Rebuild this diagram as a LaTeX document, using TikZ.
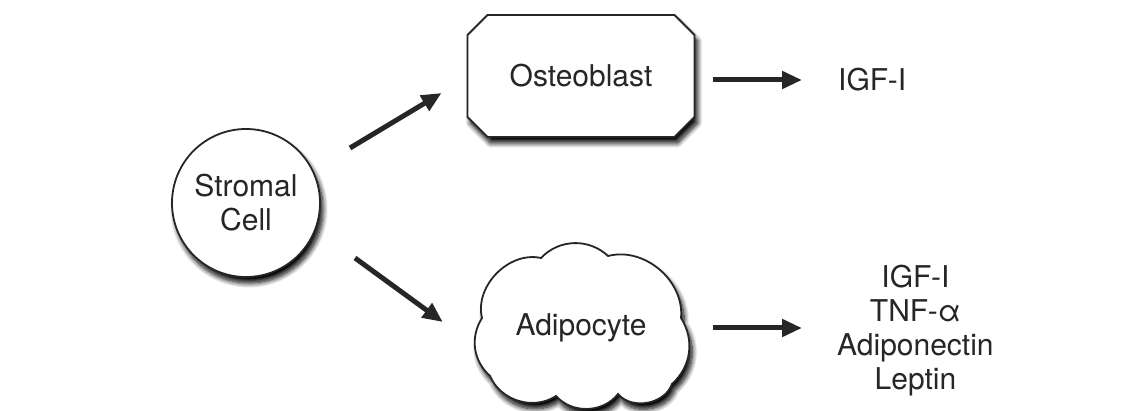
\documentclass[tikz,border=0pt]{standalone}
\usepackage{fontspec}
\setmainfont{TeX Gyre Heros}
\usetikzlibrary{shapes.geometric,shapes.misc,arrows.meta,calc,shadows.blur}
\definecolor{ink}{HTML}{262626}
\begin{document}
\begin{tikzpicture}[x=1pt,y=-1pt,
  txt/.style={font=\fontsize{30}{34}\selectfont, text=ink, inner sep=0pt, align=center},
  shade/.style={blur shadow={shadow xshift=3pt, shadow yshift=-6pt, shadow blur radius=5pt, shadow blur steps=10, shadow opacity=100}},
  outline/.style={draw=ink, line width=1.8pt, fill=white},
  shp/.style={outline, txt, shade},
  arr/.style={draw=ink, line width=5pt, -{Triangle[length=20pt,width=17pt]}}]
\useasboundingbox (0,0) rectangle (1143,411);
\node[shp, circle, minimum size=148pt] (stromal) at (246,203) {Stromal\\Cell};
\node[shp, chamfered rectangle, chamfered rectangle xsep=10pt, chamfered rectangle ysep=10pt,
  minimum width=227pt, minimum height=122pt] (osteo) at (581,76) {Osteoblast};
% cloud outline for the adipocyte
\begin{scope}[shift={(581,328)}]
\path[outline, shade] (-99,-10) to[bend left=58] (-40,-70) to[bend left=45] (27,-72)
  to[bend left=55] (100,-10) to[bend left=40] (91,56) to[bend left=60] (37,66)
  to[bend left=50] (-25,68) to[bend left=50] (-91,48) to[bend left=40] cycle;
\end{scope}
\node[txt, minimum width=208pt, minimum height=161pt] (adipo) at (581,328) {Adipocyte};
\node[txt, anchor=west] (igf) at (838,80) {IGF-I};
\node[txt, anchor=west] (list) at (837,331) {IGF-I\\TNF-α\\Adiponectin\\Leptin};
\draw[arr] ($(stromal)+(104,-55)$) -- ($(osteo.west)+(-25,17)$);
\draw[arr] ($(stromal)+(109,55)$) -- ($(adipo.west)+(-34,-6)$);
\draw[arr] ($(osteo.east)+(18,4)$) -- ($(igf.west)+(-36,0)$);
\draw[arr] ($(adipo.east)+(28,0)$) -- ($(list.west)+(-35,-3)$);
\end{tikzpicture}
\end{document}
